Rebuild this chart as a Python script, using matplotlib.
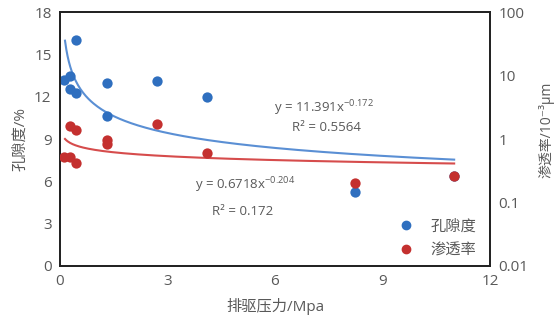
import numpy as np
import matplotlib.pyplot as plt
from matplotlib.lines import Line2D
from matplotlib.ticker import FixedLocator, FixedFormatter

# --- data ---
pressure_por = [0.11, 0.28, 0.45, 0.28, 0.45, 1.32, 1.32, 2.72, 4.1, 8.24, 11.0]
porosity = [13.2, 13.5, 16.0, 12.55, 12.3, 13.0, 10.6, 13.1, 12.0, 5.25, 6.4]

pressure_perm = [0.1, 0.28, 0.45, 0.28, 0.45, 1.32, 1.32, 2.72, 4.1, 8.24, 11.0]
permeability = [0.52, 0.52, 0.42, 1.6, 1.39, 0.96, 0.83, 1.72, 0.6, 0.203, 0.26]

# power-law fits printed on the chart
por_a, por_b = 11.391, -0.172
perm_a, perm_b = 0.6718, -0.204

x_ticks = [0, 3, 6, 9, 12]
y_ticks = [0, 3, 6, 9, 12, 15, 18]
perm_ticks = [0.01, 0.1, 1, 10, 100]
perm_labels = ["0.01", "0.1", "1", "10", "100"]

BLUE = "#2f6fbf"
RED = "#c4302f"
BLUE_LINE = "#5a8fd4"
RED_LINE = "#d64c4c"
GREY = "#595959"

plt.rcParams['font.family'] = ['Open Sans', 'Noto Sans CJK SC', 'DejaVu Sans']
plt.rcParams['mathtext.fontset'] = 'custom'

fig = plt.figure(figsize=(5.57, 3.23), dpi=100)
ax = fig.add_axes([0.1077, 0.1765, 0.772, 0.786])
ax2 = ax.twinx()

# trend lines
xs = np.linspace(0.14, 11.0, 300)
ax.plot(xs, por_a * xs ** por_b, color=BLUE_LINE, lw=1.5, zorder=2)
ax2.plot(xs, perm_a * xs ** perm_b, color=RED_LINE, lw=1.5, zorder=2)

ax.scatter(pressure_por, porosity, s=55, color=BLUE, zorder=3, linewidths=0)
ax2.scatter(pressure_perm, permeability, s=55, color=RED, zorder=3, linewidths=0)

ax.set_xlim(0, 12)
ax.set_ylim(0, 18)
ax.set_xticks(x_ticks)
ax.set_yticks(y_ticks)
ax2.set_yscale('log')
ax2.set_ylim(0.01, 100)
ax2.yaxis.set_major_locator(FixedLocator(perm_ticks))
ax2.yaxis.set_major_formatter(FixedFormatter(perm_labels))
ax2.yaxis.set_minor_locator(FixedLocator([]))

for a in (ax, ax2):
    a.tick_params(length=0, labelsize=11, labelcolor=GREY, pad=6)
    for sp in a.spines.values():
        sp.set_color("#222222")
        sp.set_linewidth(1.3)

ax.set_xlabel("排驱压力/Mpa", fontsize=11, color=GREY, labelpad=6)
ax.set_ylabel("孔隙度/%", fontsize=11, color=GREY, labelpad=4)
ax2.set_ylabel("渗透率/10⁻³μm", fontsize=10, color=GREY, rotation=90)
ax2.yaxis.set_label_coords(1.113, 0.535)

# fit equations
ax.text(0.615, 0.62, "y = 11.391x$^{\\mathregular{-0.172}}$", transform=ax.transAxes,
        ha='center', va='center', fontsize=9.5, color=GREY)
ax.text(0.62, 0.545, "R² = 0.5564", transform=ax.transAxes,
        ha='center', va='center', fontsize=9.5, color=GREY)
ax.text(0.43, 0.318, "y = 0.6718x$^{\\mathregular{-0.204}}$", transform=ax.transAxes,
        ha='center', va='center', fontsize=9.5, color=GREY)
ax.text(0.425, 0.216, "R² = 0.172", transform=ax.transAxes,
        ha='center', va='center', fontsize=9.5, color=GREY)

handles = [Line2D([], [], marker='o', ls='', color=BLUE, markersize=6),
           Line2D([], [], marker='o', ls='', color=RED, markersize=6)]
leg = ax.legend(handles, ["孔隙度", "渗透率"], loc='lower right', frameon=False,
                fontsize=11, handletextpad=0.6, labelspacing=0.6,
                bbox_to_anchor=(1.0, -0.025))
for t in leg.get_texts():
    t.set_color(GREY)

fig.savefig("out.png", dpi=100)
